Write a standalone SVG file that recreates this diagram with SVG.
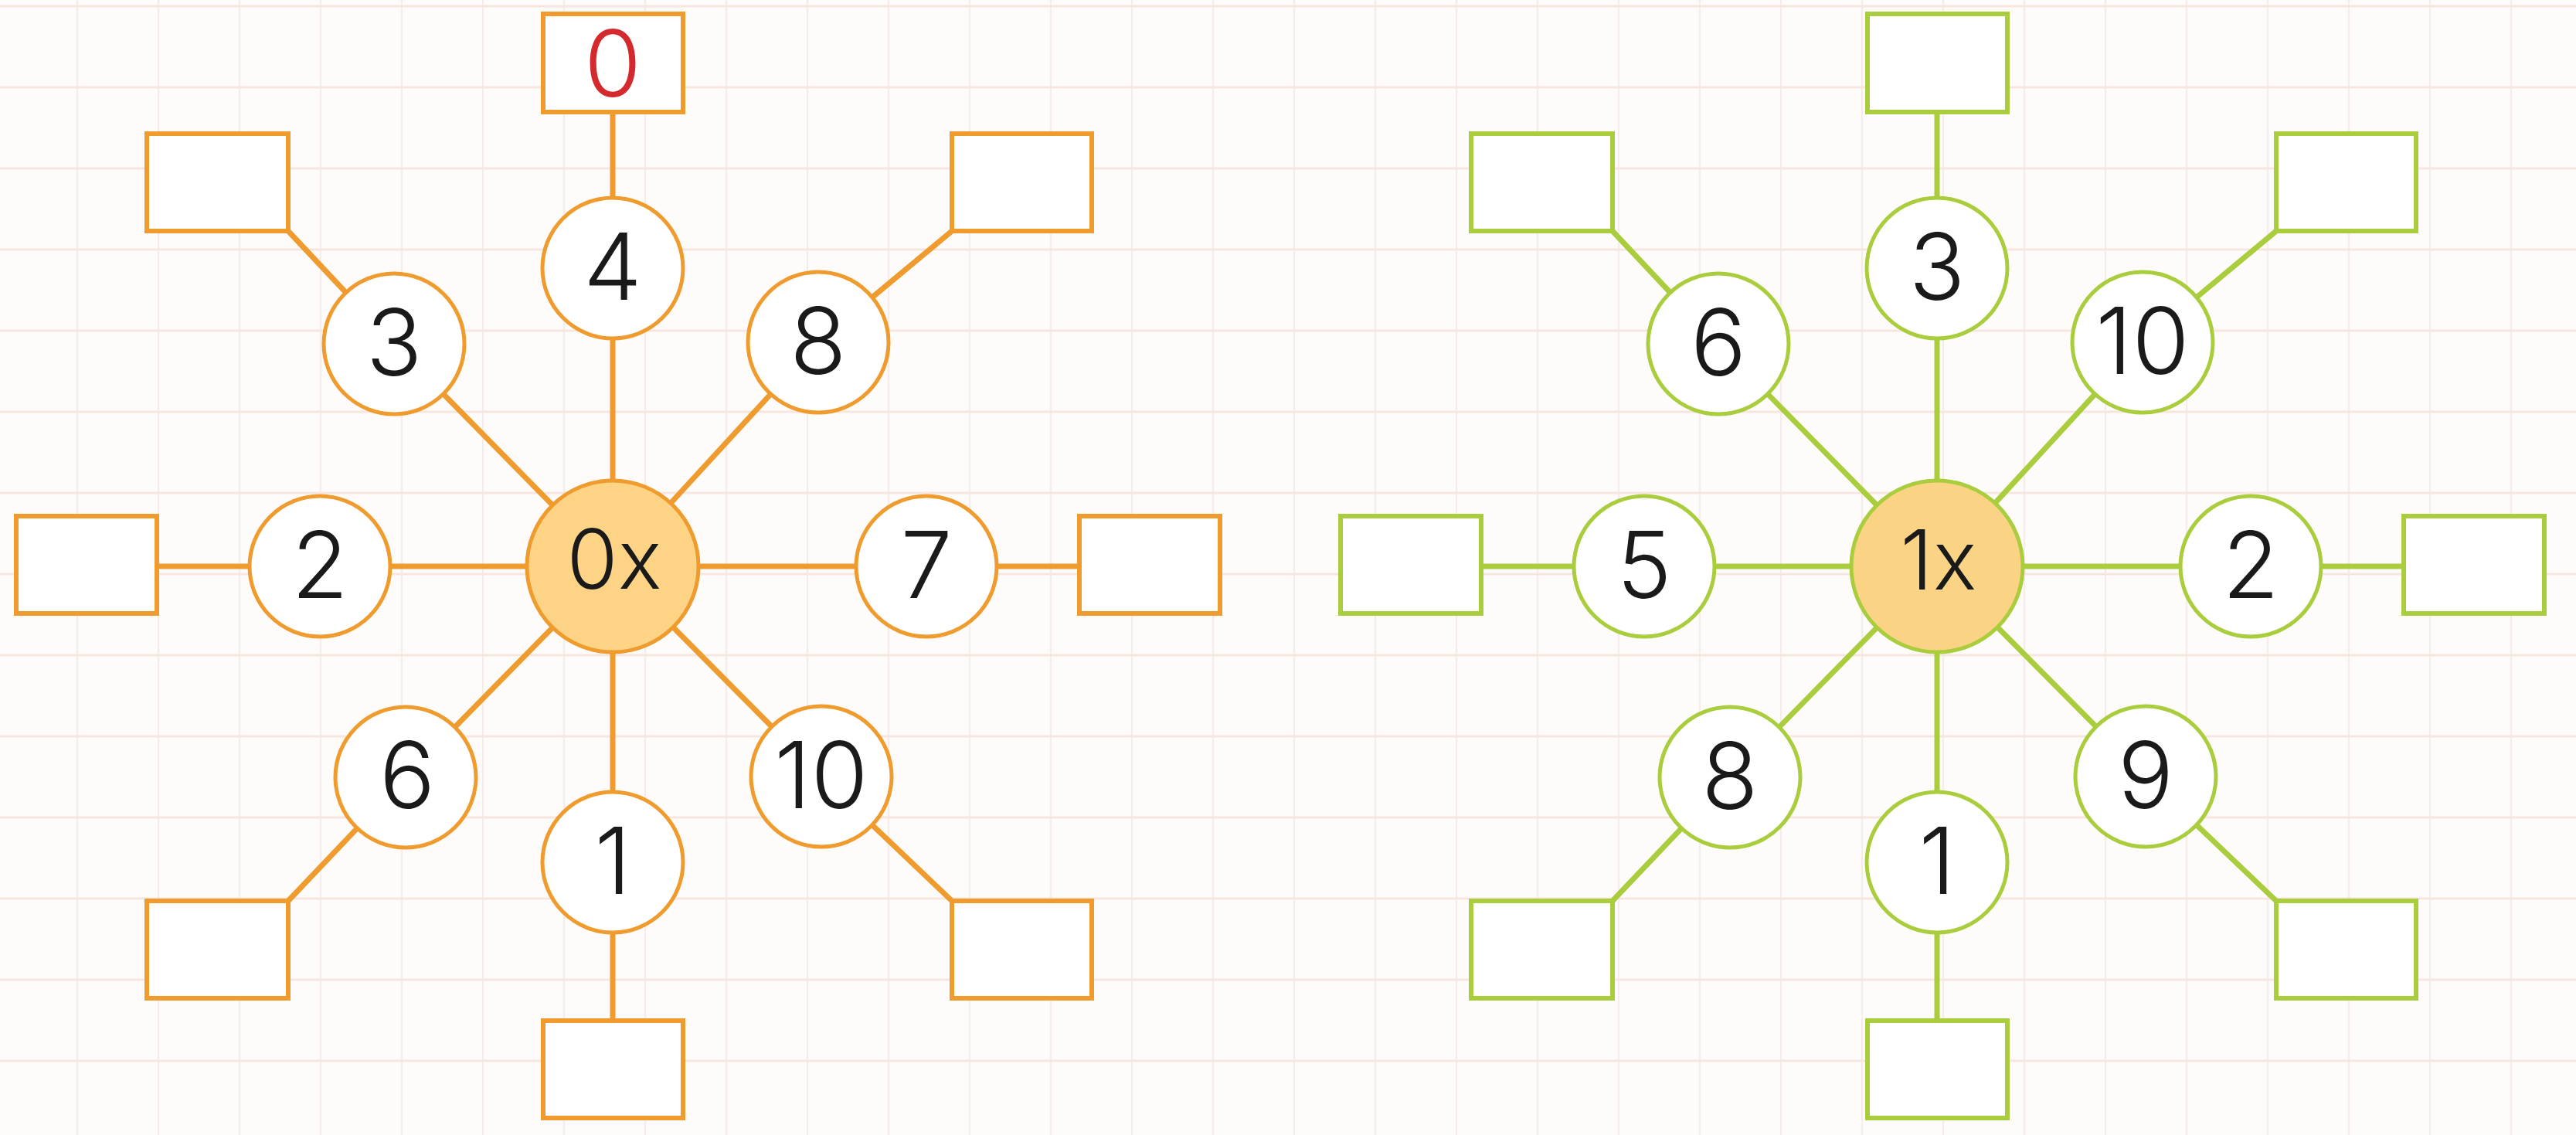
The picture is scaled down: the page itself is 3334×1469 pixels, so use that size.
<svg xmlns="http://www.w3.org/2000/svg" width="3334" height="1469" viewBox="0 0 3334 1469">
<style>
.gh{stroke:#F8E5E0;stroke-width:3}
.gv{stroke:#F6EDEA;stroke-width:2.5}
.co{stroke:#EF9B2D;stroke-width:7;fill:none;stroke-linejoin:round}
.cg{stroke:#A9CD3C;stroke-width:7;fill:none;stroke-linejoin:round}
.so{fill:#FFFFFF;stroke:#EF9B2D;stroke-width:5}
.sg{fill:#FFFFFF;stroke:#A9CD3C;stroke-width:5}
.mo{fill:#FDD486;stroke:#EF9B2D;stroke-width:5}
.mg{fill:#FAD385;stroke:#A9CD3C;stroke-width:5}
.bo{fill:#FFFFFF;stroke:#EF9B2D;stroke-width:6}
.bg{fill:#FFFFFF;stroke:#A9CD3C;stroke-width:6}
.t{font-family:Inter,Lato,"Noto Sans",sans-serif;font-weight:300;font-size:120px;fill:#1A1A1A;text-anchor:middle}
.tc{font-family:Inter,Lato,"Noto Sans",sans-serif;font-weight:300;font-size:107px;fill:#1A1A1A;text-anchor:middle}
.tr{font-family:Inter,Lato,"Noto Sans",sans-serif;font-weight:300;font-size:120px;fill:#D42A2E;text-anchor:middle}
</style>
<rect x="0" y="0" width="3334" height="1469" fill="#FEFCFB"/>
<g id="grid">
<path class="gv" d="M100 0V1469M205 0V1469M310 0V1469M415 0V1469M520 0V1469M625 0V1469M730 0V1469M835 0V1469M940 0V1469M1045 0V1469M1150 0V1469M1255 0V1469M1360 0V1469M1465 0V1469M1570 0V1469M1675 0V1469M1780 0V1469M1885 0V1469M1990 0V1469M2095 0V1469M2200 0V1469M2305 0V1469M2410 0V1469M2515 0V1469M2620 0V1469M2725 0V1469M2830 0V1469M2935 0V1469M3040 0V1469M3145 0V1469M3250 0V1469"/>
<path class="gh" d="M0 8H3334M0 113H3334M0 218H3334M0 323H3334M0 428H3334M0 533H3334M0 638H3334M0 743H3334M0 848H3334M0 953H3334M0 1058H3334M0 1163H3334M0 1268H3334M0 1373H3334"/>
</g>
<g id="connectors-left" class="co">
<line x1="793" y1="733" x2="793" y2="145"/>
<line x1="793" y1="733" x2="793" y2="1321"/>
<line x1="793" y1="733" x2="203" y2="733"/>
<line x1="793" y1="733" x2="1397" y2="733"/>
<polyline points="793,733 510,445 373,299"/>
<polyline points="793,733 1059,443 1232,299"/>
<polyline points="793,733 525,1006 373,1166"/>
<polyline points="793,733 1063,1005 1232,1166"/>
</g>
<g id="connectors-right" class="cg">
<line x1="2507" y1="733" x2="2507" y2="145"/>
<line x1="2507" y1="733" x2="2507" y2="1321"/>
<line x1="2507" y1="733" x2="1917" y2="733"/>
<line x1="2507" y1="733" x2="3111" y2="733"/>
<polyline points="2507,733 2224,445 2087,299"/>
<polyline points="2507,733 2773,443 2946,299"/>
<polyline points="2507,733 2239,1006 2087,1166"/>
<polyline points="2507,733 2777,1005 2946,1166"/>
</g>
<g id="left-hub"><circle class="mo" cx="793" cy="733" r="111"/><text class="tc" x="795" y="762">0x</text></g>
<g id="left-n4"><circle class="so" cx="793" cy="347" r="91"/><text class="t" x="793" y="388">4</text></g>
<g id="left-n3"><circle class="so" cx="510" cy="445" r="91"/><text class="t" x="510" y="486">3</text></g>
<g id="left-n8"><circle class="so" cx="1059" cy="443" r="91"/><text class="t" x="1059" y="484">8</text></g>
<g id="left-n2"><circle class="so" cx="414" cy="733" r="91"/><text class="t" x="414" y="774">2</text></g>
<g id="left-n7"><circle class="so" cx="1199" cy="733" r="91"/><text class="t" x="1199" y="774">7</text></g>
<g id="left-n6"><circle class="so" cx="525" cy="1006" r="91"/><text class="t" x="527" y="1046">6</text></g>
<g id="left-n10"><circle class="so" cx="1063" cy="1005" r="91"/><text class="t" x="1063" y="1046">10</text></g>
<g id="left-n1"><circle class="so" cx="793" cy="1116" r="91"/><text class="t" x="793" y="1157">1</text></g>
<g id="left-box-top"><rect class="bo" x="703" y="18" width="181" height="127"/><text class="tr" x="793" y="125">0</text></g>
<g id="left-box-ul"><rect class="bo" x="190" y="173" width="183" height="126"/></g>
<g id="left-box-ur"><rect class="bo" x="1232" y="173" width="181" height="126"/></g>
<g id="left-box-l"><rect class="bo" x="21" y="668" width="182" height="126"/></g>
<g id="left-box-r"><rect class="bo" x="1397" y="668" width="182" height="126"/></g>
<g id="left-box-ll"><rect class="bo" x="190" y="1166" width="183" height="126"/></g>
<g id="left-box-lr"><rect class="bo" x="1232" y="1166" width="181" height="126"/></g>
<g id="left-box-b"><rect class="bo" x="703" y="1321" width="181" height="126"/></g>
<g id="right-hub"><circle class="mg" cx="2507" cy="733" r="111"/><text class="tc" x="2509" y="763">1x</text></g>
<g id="right-n3"><circle class="sg" cx="2507" cy="347" r="91"/><text class="t" x="2507" y="388">3</text></g>
<g id="right-n6"><circle class="sg" cx="2224" cy="445" r="91"/><text class="t" x="2224" y="486">6</text></g>
<g id="right-n10"><circle class="sg" cx="2773" cy="443" r="91"/><text class="t" x="2773" y="484">10</text></g>
<g id="right-n5"><circle class="sg" cx="2128" cy="733" r="91"/><text class="t" x="2128" y="774">5</text></g>
<g id="right-n2"><circle class="sg" cx="2913" cy="733" r="91"/><text class="t" x="2913" y="774">2</text></g>
<g id="right-n8"><circle class="sg" cx="2239" cy="1006" r="91"/><text class="t" x="2239" y="1047">8</text></g>
<g id="right-n9"><circle class="sg" cx="2777" cy="1005" r="91"/><text class="t" x="2777" y="1046">9</text></g>
<g id="right-n1"><circle class="sg" cx="2507" cy="1116" r="91"/><text class="t" x="2507" y="1157">1</text></g>
<g id="right-box-top"><rect class="bg" x="2417" y="18" width="181" height="127"/></g>
<g id="right-box-ul"><rect class="bg" x="1904" y="173" width="183" height="126"/></g>
<g id="right-box-ur"><rect class="bg" x="2946" y="173" width="181" height="126"/></g>
<g id="right-box-l"><rect class="bg" x="1735" y="668" width="182" height="126"/></g>
<g id="right-box-r"><rect class="bg" x="3111" y="668" width="182" height="126"/></g>
<g id="right-box-ll"><rect class="bg" x="1904" y="1166" width="183" height="126"/></g>
<g id="right-box-lr"><rect class="bg" x="2946" y="1166" width="181" height="126"/></g>
<g id="right-box-b"><rect class="bg" x="2417" y="1321" width="181" height="126"/></g>
</svg>
